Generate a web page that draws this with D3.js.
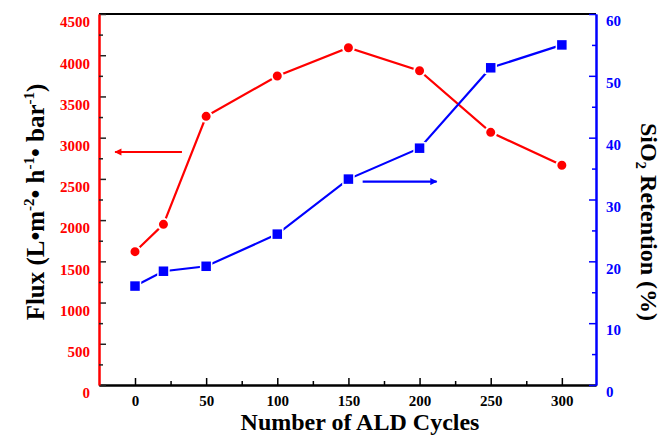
<!DOCTYPE html>
<html>
<head>
<meta charset="utf-8">
<script src="https://cdn.jsdelivr.net/npm/d3@7"></script>
<style>
  body { margin: 0; background: #fff; }
  svg { display: block; }
  text { font-family: "Liberation Serif", "DejaVu Serif", serif; }
</style>
</head>
<body>
<svg id="chart" width="661" height="436"></svg>
<script>
// data
var cycles    = [0, 20, 50, 100, 150, 200, 250, 300];
var flux      = [1617, 1949, 3259, 3748, 4091, 3812, 3065, 2665];
var retention = [16.0, 18.4, 19.2, 24.4, 33.3, 38.3, 51.3, 55.0];

var xTicks = [0, 50, 100, 150, 200, 250, 300];
var xMinor = [25, 75, 125, 175, 225, 275];
var fluxTicks = [0, 500, 1000, 1500, 2000, 2500, 3000, 3500, 4000, 4500];
var fluxMinor = [250, 750, 1250, 1750, 2250, 2750, 3250, 3750, 4250];
var retTicks = [0, 10, 20, 30, 40, 50, 60];
var retMinor = [5, 15, 25, 35, 45, 55];

var red = '#ff0000', blue = '#0000ff';

var svg = d3.select('#chart');
var plotLeft = 99, plotRight = 596, plotTop = 14, plotBottom = 385;

var x = d3.scaleLinear().domain([-25.3, 324]).range([plotLeft, plotRight]);
var yL = d3.scaleLinear().domain([0, 4500]).range([plotBottom, plotTop]);
var yR = d3.scaleLinear().domain([0, 60]).range([plotBottom, plotTop]);

// top frame line
svg.append('line').attr('x1', plotLeft).attr('x2', plotRight).attr('y1', plotTop).attr('y2', plotTop)
  .attr('stroke', '#000').attr('stroke-width', 2);

// x axis
var gx = svg.append('g').attr('transform', 'translate(0,' + plotBottom + ')');
gx.call(d3.axisBottom(x).tickValues(xTicks).tickSizeInner(-7).tickSizeOuter(0).tickPadding(10));
gx.append('g').call(d3.axisBottom(x).tickValues(xMinor).tickSizeInner(-4).tickSizeOuter(0).tickFormat(''));
gx.selectAll('.domain').attr('stroke', '#000').attr('stroke-width', 2);
gx.selectAll('.tick line').attr('stroke', '#000').attr('stroke-width', 1.5);
gx.selectAll('text').attr('fill', '#000').attr('font-size', 15).attr('font-weight', 'bold')
  .attr('font-family', '"Liberation Serif", serif');

// left axis (flux)
var gl = svg.append('g').attr('transform', 'translate(' + plotLeft + ',0)');
gl.call(d3.axisLeft(yL).tickValues(fluxTicks).tickFormat(d3.format('d'))
  .tickSizeInner(-7).tickSizeOuter(0).tickPadding(9));
gl.append('g').call(d3.axisLeft(yL).tickValues(fluxMinor).tickSizeInner(-4).tickSizeOuter(0).tickFormat(''));
gl.selectAll('.domain').attr('stroke', red).attr('stroke-width', 2);
gl.selectAll('.tick line').attr('stroke', '#222').attr('stroke-width', 1.5);
gl.selectAll('text').attr('fill', red).attr('font-size', 15).attr('font-weight', 'bold')
  .attr('font-family', '"Liberation Serif", serif').attr('y', 8);

// right axis (retention)
var gr = svg.append('g').attr('transform', 'translate(' + plotRight + ',0)');
gr.call(d3.axisRight(yR).tickValues(retTicks).tickSizeInner(-7).tickSizeOuter(0).tickPadding(10));
gr.append('g').call(d3.axisRight(yR).tickValues(retMinor).tickSizeInner(-4).tickSizeOuter(0).tickFormat(''));
gr.selectAll('.domain').attr('stroke', blue).attr('stroke-width', 2);
gr.selectAll('.tick line').attr('stroke', blue).attr('stroke-width', 1.5);
gr.selectAll('text').attr('fill', blue).attr('font-size', 15).attr('font-weight', 'bold')
  .attr('font-family', '"Liberation Serif", serif').attr('y', 7);

// lines
var fluxLine = d3.line().x(function(d, i) { return x(cycles[i]); }).y(function(d) { return yL(d); });
var retLine = d3.line().x(function(d, i) { return x(cycles[i]); }).y(function(d) { return yR(d); });

svg.append('path').datum(flux).attr('d', fluxLine)
  .attr('fill', 'none').attr('stroke', red).attr('stroke-width', 2.2);
svg.append('path').datum(retention).attr('d', retLine)
  .attr('fill', 'none').attr('stroke', blue).attr('stroke-width', 2.2);

svg.selectAll('.pt-flux').data(flux).enter().append('circle')
  .attr('class', 'pt-flux')
  .attr('cx', function(d, i) { return x(cycles[i]); })
  .attr('cy', function(d) { return yL(d); })
  .attr('r', 5.5).attr('fill', red).attr('stroke', '#fff').attr('stroke-width', 2);

svg.selectAll('.pt-ret').data(retention).enter().append('rect')
  .attr('class', 'pt-ret')
  .attr('x', function(d, i) { return x(cycles[i]) - 5.5; })
  .attr('y', function(d) { return yR(d) - 5.5; })
  .attr('width', 11).attr('height', 11)
  .attr('fill', blue).attr('stroke', '#fff').attr('stroke-width', 1.5);

// arrows pointing to each axis
var defs = svg.append('defs');
[['ah-red', red], ['ah-blue', blue]].forEach(function(m) {
  defs.append('marker').attr('id', m[0]).attr('viewBox', '0 0 10 10')
    .attr('refX', 9).attr('refY', 5).attr('markerWidth', 4).attr('markerHeight', 3.2)
    .attr('orient', 'auto')
    .append('path').attr('d', 'M0,0 L10,5 L0,10 z').attr('fill', m[1]);
});
svg.append('line').attr('x1', x(33)).attr('x2', x(-14)).attr('y1', yL(2826)).attr('y2', yL(2826))
  .attr('stroke', red).attr('stroke-width', 2.2).attr('marker-end', 'url(#ah-red)');
svg.append('line').attr('x1', x(160)).attr('x2', x(212)).attr('y1', yR(32.9)).attr('y2', yR(32.9))
  .attr('stroke', blue).attr('stroke-width', 2.2).attr('marker-end', 'url(#ah-blue)');

// axis titles
svg.append('text').attr('x', 360).attr('y', 430).attr('text-anchor', 'middle')
  .attr('font-size', 24).attr('font-weight', 'bold').text('Number of ALD Cycles');

var yt = svg.append('text').attr('transform', 'translate(44,202) rotate(-90)')
  .attr('text-anchor', 'middle').attr('font-size', 25).attr('font-weight', 'bold');
yt.append('tspan').text('Flux (L\u2022m');
yt.append('tspan').attr('font-size', 15).attr('dy', -10).text('-2');
yt.append('tspan').attr('dy', 10).text('\u2022 h');
yt.append('tspan').attr('font-size', 15).attr('dy', -10).text('-1');
yt.append('tspan').attr('dy', 10).text('\u2022 bar');
yt.append('tspan').attr('font-size', 15).attr('dy', -10).text('-1');
yt.append('tspan').attr('dy', 10).text(')');

var rt = svg.append('text').attr('transform', 'translate(641,222) rotate(90)')
  .attr('text-anchor', 'middle').attr('font-size', 24).attr('font-weight', 'bold');
rt.append('tspan').text('SiO');
rt.append('tspan').attr('font-size', 15).attr('dy', 5).text('2');
rt.append('tspan').attr('dy', -5).text(' Retention (%)');
</script>
</body>
</html>
